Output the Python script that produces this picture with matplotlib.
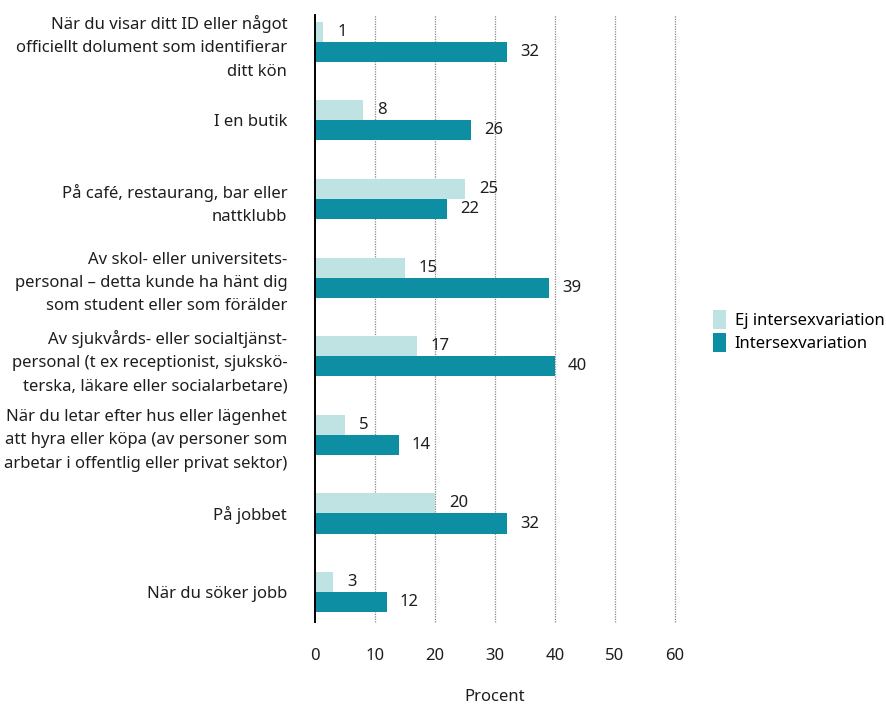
import matplotlib
matplotlib.use("Agg")
import matplotlib.pyplot as plt
import numpy as np

plt.rcParams['font.family'] = ['Noto Sans', 'DejaVu Sans']

# data
categories = [
    "När du visar ditt ID eller något\nofficiellt dolument som identifierar\nditt kön",
    "I en butik",
    "På café, restaurang, bar eller\nnattklubb",
    "Av skol- eller universitets-\npersonal – detta kunde ha hänt dig\nsom student eller som förälder",
    "Av sjukvårds- eller socialtjänst-\npersonal (t ex receptionist, sjukskö-\nterska, läkare eller socialarbetare)",
    "När du letar efter hus eller lägenhet\natt hyra eller köpa (av personer som\narbetar i offentlig eller privat sektor)",
    "På jobbet",
    "När du söker jobb",
]
ej_inter = [1.4, 8, 25, 15, 17, 5, 20, 3]
ej_labels = ["1", "8", "25", "15", "17", "5", "20", "3"]
inter = [32, 26, 22, 39, 40, 14, 32, 12]
inter_labels = ["32", "26", "22", "39", "40", "14", "32", "12"]
series_names = ["Ej intersexvariation", "Intersexvariation"]
xticks = [0, 10, 20, 30, 40, 50, 60]

light = "#bfe2e3"
dark = "#0d8ea3"
txt = "#1e1e1e"
fs = 12

fig = plt.figure(figsize=(8.87, 7.07), dpi=100)
ax = fig.add_axes([315 / 887, 1 - 622 / 707, 360 / 887, 607 / 707])

pos = np.arange(len(categories))
h = 0.255
b1 = ax.barh(pos - h / 2, ej_inter, height=h, color=light, label=series_names[0])
b2 = ax.barh(pos + h / 2, inter, height=h, color=dark, label=series_names[1])

# value labels
for p, v, t in zip(pos, ej_inter, ej_labels):
    ax.annotate(t, (v, p - h / 2), xytext=(14, 0), textcoords="offset pixels",
                va="center", ha="left", fontsize=fs, color=txt)
for p, v, t in zip(pos, inter, inter_labels):
    ax.annotate(t, (v, p + h / 2), xytext=(13, 0), textcoords="offset pixels",
                va="center", ha="left", fontsize=fs, color=txt)

ax.set_xlim(0, 60)
ax.set_ylim(7.38, -0.34)
ax.set_xticks(xticks)
ax.set_xticklabels([str(x) for x in xticks], fontsize=fs, color=txt)
ax.set_yticks(pos)
ax.set_yticklabels(categories, fontsize=fs, color=txt, linespacing=1.6)
ax.tick_params(axis="both", length=0)
ax.tick_params(axis="x", pad=19)
ax.tick_params(axis="y", pad=20)

for x in xticks[1:]:
    ax.axvline(x, color="#888888", linestyle=(0, (1, 1)), linewidth=0.9, zorder=0,
               clip_on=False)

for s in ["top", "right", "bottom"]:
    ax.spines[s].set_visible(False)
ax.spines["left"].set_linewidth(1.4)
ax.spines["left"].set_color("black")
ax.spines["left"].set_zorder(5)

ax.set_xlabel("Procent", fontsize=fs, color=txt, labelpad=18)

fig.legend(handles=[b1, b2], labels=series_names, loc="center left",
           bbox_to_anchor=(713 / 887, 1 - 331 / 707), frameon=False, fontsize=fs,
           handlelength=0.8, handleheight=1.4, handletextpad=0.5, labelspacing=0.2,
           borderaxespad=0, borderpad=0)

fig.savefig("out.png", dpi=100)
